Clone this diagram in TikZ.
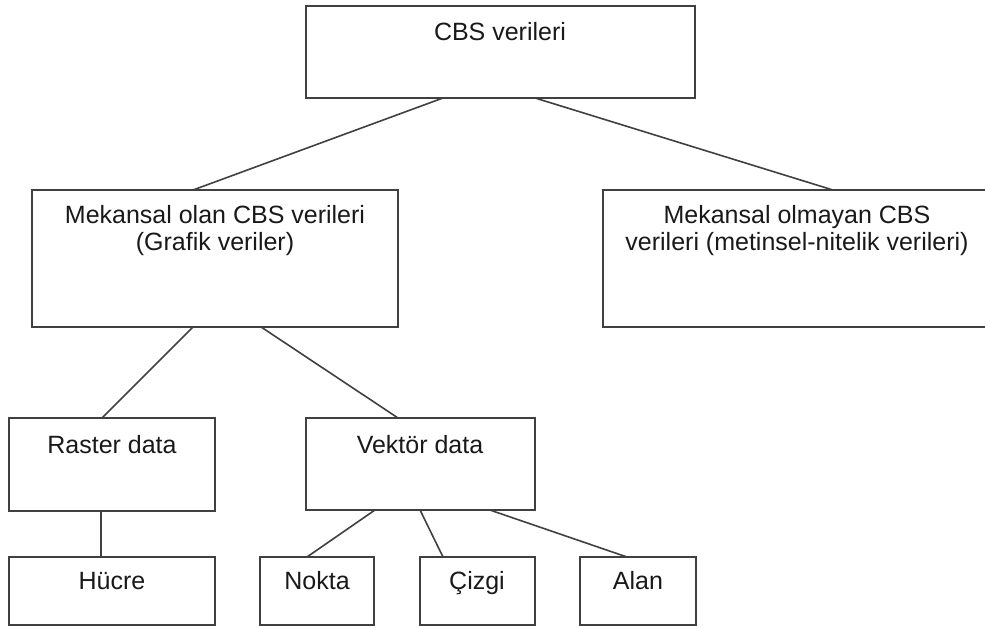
\documentclass[tikz,border=0pt]{standalone}
\usepackage{fontspec}
\setmainfont{Liberation Sans}
\usetikzlibrary{calc}
\begin{document}
\begin{tikzpicture}[x=0.5pt,y=-0.5pt,
  box/.style={draw=black!75, line width=0.8pt, inner sep=0pt, outer sep=0pt, anchor=north west},
  lbl/.style={anchor=base, inner sep=0pt, font=\fontsize{12.5}{13.5}\selectfont, text=black!90, align=center},
  conn/.style={draw=black!75, line width=0.8pt}]
\useasboundingbox (0,0) rectangle (985,627);
% boxes
\node[box, minimum width=194.5pt, minimum height=46pt] (top) at (306,6) {};
\node[box, minimum width=183pt, minimum height=68.5pt] (left) at (32,190) {};
\node[box, minimum width=193.5pt, minimum height=68.5pt] (right) at (603,190) {};
\node[box, minimum width=103pt, minimum height=46.5pt] (raster) at (9,418) {};
\node[box, minimum width=114.5pt, minimum height=46pt] (vektor) at (306,418) {};
\node[box, minimum width=103pt, minimum height=34pt] (hucre) at (9,557) {};
\node[box, minimum width=57pt, minimum height=34pt] (nokta) at (260,557) {};
\node[box, minimum width=57.5pt, minimum height=34pt] (cizgi) at (420,557) {};
\node[box, minimum width=58pt, minimum height=34pt] (alan) at (580,557) {};
% labels
\node[lbl] (topt) at (500,40) {CBS verileri};
\node[lbl] (leftt) at (215,250) {Mekansal olan CBS verileri\\(Grafik veriler)};
\node[lbl] (rightt) at (797,250) {Mekansal olmayan CBS\\verileri (metinsel-nitelik verileri)};
\node[lbl] (rastert) at (112,453) {Raster data};
\node[lbl] (vektort) at (420,453) {Vektör data};
\node[lbl] (hucret) at (112,589) {Hücre};
\node[lbl] (noktat) at (317,589) {Nokta};
\node[lbl] (cizgit) at (477,589) {Çizgi};
\node[lbl] (alant) at (638,589) {Alan};
% connectors
\draw[conn] ($(top.south west)!0.352!(top.south east)$) -- ($(left.north west)!0.44!(left.north east)$);
\draw[conn] ($(top.south west)!0.589!(top.south east)$) -- ($(right.north west)!0.594!(right.north east)$);
\draw[conn] ($(left.south west)!0.44!(left.south east)$) -- ($(raster.north west)!0.451!(raster.north east)$);
\draw[conn] ($(left.south west)!0.626!(left.south east)$) -- ($(vektor.north west)!0.402!(vektor.north east)$);
\draw[conn] ($(raster.south west)!0.447!(raster.south east)$) -- ($(hucre.north west)!0.447!(hucre.north east)$);
\draw[conn] ($(vektor.south west)!0.301!(vektor.south east)$) -- ($(nokta.north west)!0.412!(nokta.north east)$);
\draw[conn] ($(vektor.south west)!0.498!(vektor.south east)$) -- ($(cizgi.north west)!0.2!(cizgi.north east)$);
\draw[conn] ($(vektor.south west)!0.803!(vektor.south east)$) -- ($(alan.north west)!0.405!(alan.north east)$);
\end{tikzpicture}
\end{document}
